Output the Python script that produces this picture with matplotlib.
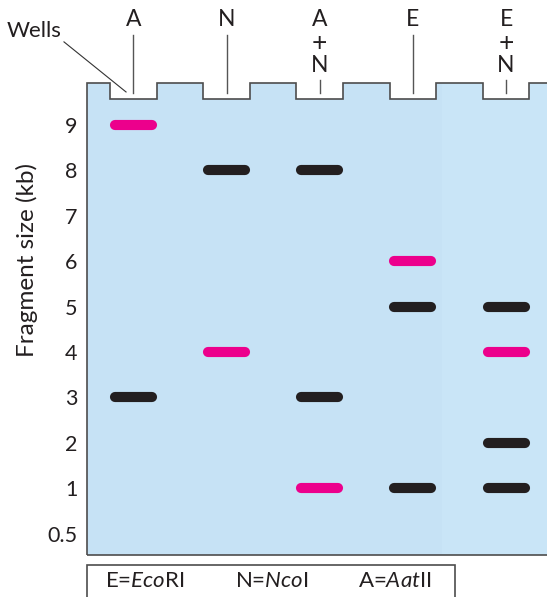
import matplotlib.pyplot as plt
from matplotlib.patches import Polygon, Rectangle

plt.rcParams["font.family"] = ["Lato", "DejaVu Sans"]
plt.rcParams["mathtext.fontset"] = "custom"
plt.rcParams["mathtext.rm"] = "Lato"
plt.rcParams["mathtext.it"] = "Lato:italic"

# lanes (top labels) and band sizes in kb
lanes = ["A", "N", "A\n+\nN", "E", "E\n+\nN"]
band_lane = [0, 0, 1, 1, 2, 2, 2, 3, 3, 3, 4, 4, 4, 4]
band_kb = [9, 3, 8, 4, 8, 3, 1, 6, 5, 1, 5, 4, 2, 1]
band_pink = [1, 0, 0, 1, 0, 0, 1, 1, 0, 0, 0, 1, 0, 0]

# y axis: sizes shown at evenly spaced positions
tick_labels = ["0.5", "1", "2", "3", "4", "5", "6", "7", "8", "9"]

legend_abbr = ["E", "N", "A"]
legend_enzyme = ["Eco", "Nco", "Aat"]
legend_suffix = ["RI", "I", "II"]

PINK = "#EC008C"
BLACK = "#231F20"
GEL = "#C6E2F5"
EDGE = "#4D4D4D"
TXT = "#231F20"

W, H = 547, 597
fig = plt.figure(figsize=(W / 100, H / 100), dpi=100)

# axes box = gel box in pixels
gl, gr, gt, gb = 87, 547, 83.3, 555
ax = fig.add_axes([gl / W, 1 - gb / H, (gr - gl) / W, (gb - gt) / H])
ax.set_xlim(-0.497, 4.439)
ax.set_ylim(-0.471, 9.918)
for s in ax.spines.values():
    s.set_visible(False)
ax.set_xticks([])

top = 9.918
well_bot = 9.579
well_half = 0.25

# gel outline with wells
pts = [(-0.497, -0.471), (-0.497, top)]
for i in range(len(lanes)):
    pts += [(i - well_half, top), (i - well_half, well_bot),
            (i + well_half, well_bot), (i + well_half, top)]
pts += [(4.7, top), (4.7, -0.471)]
gel = Polygon(pts, closed=True, facecolor=GEL, edgecolor="none",
              clip_on=False, zorder=1)
ax.add_patch(gel)
shade = Rectangle((3.31, -0.6), 1.5, 11, facecolor="#C9E5F7",
                  edgecolor="none", zorder=1.1)
ax.add_patch(shade)
shade.set_clip_path(gel)
ax.add_patch(Polygon(pts, closed=True, facecolor="none", edgecolor=EDGE,
                     linewidth=1.2, clip_on=False, zorder=1.2))

# bands
half = 0.198
for ln, kb, pk in zip(band_lane, band_kb, band_pink):
    y = kb if kb >= 1 else 0
    ax.plot([ln - half, ln + half], [y, y], color=PINK if pk else BLACK,
            linewidth=7.3, solid_capstyle="round", zorder=3)

# lane labels
for i, lab in enumerate(lanes):
    parts = lab.split("\n")
    ax.text(i, 11.33, parts[0], ha="center", va="center", fontsize=16.5,
            color=TXT, clip_on=False)
    if len(parts) > 1:
        ax.text(i, 10.80, parts[1], ha="center", va="center", fontsize=19,
                color=TXT, clip_on=False)
        ax.text(i, 10.30, parts[2], ha="center", va="center", fontsize=16.5,
                color=TXT, clip_on=False)
        ax.plot([i, i], [9.99, 9.70], color="#555555", linewidth=1.0,
                clip_on=False)
    else:
        ax.plot([i, i], [10.98, 9.70], color="#555555", linewidth=1.0,
                clip_on=False)

# wells pointer
ax.text(-1.065, 11.07, "Wells", ha="center", va="center", fontsize=16,
        color=TXT, clip_on=False)
ax.plot([-0.744, -0.078], [10.83, 9.727], color="#333333", linewidth=0.8,
        clip_on=False)

ax.set_yticks(range(len(tick_labels)))
ax.set_yticklabels(tick_labels, fontsize=15.5, color=TXT)
ax.tick_params(axis="y", length=0, pad=7)

fig.text(27 / W, 1 - 260 / H, "Fragment size (kb)", rotation=90,
         ha="center", va="center", fontsize=17.5, color=TXT)

# legend box
fig.patches.append(Rectangle((87 / W, -0.05), (455 - 87) / W,
                             0.05 + 1 - 565 / H, transform=fig.transFigure,
                             facecolor="white", edgecolor=EDGE, linewidth=1.2))
leg_x = [105, 235, 358]
for x, a, e, s in zip(leg_x, legend_abbr, legend_enzyme, legend_suffix):
    fig.text(x / W, 1 - 581 / H, a + "=" + "$\\mathit{" + e + "}$" + s,
             ha="left", va="center", fontsize=16, color=TXT)

fig.savefig("out.png", dpi=100)
